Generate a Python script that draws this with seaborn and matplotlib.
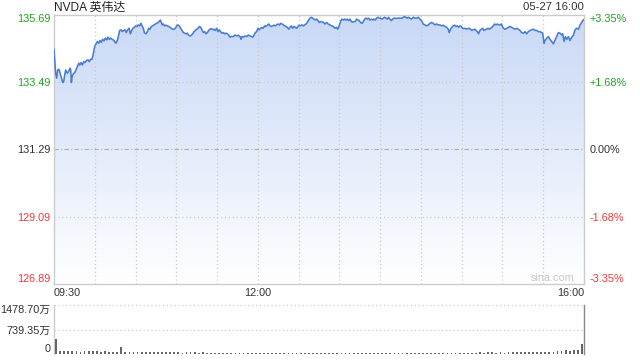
import numpy as np
import pandas as pd
import matplotlib
matplotlib.use("Agg")
import matplotlib.pyplot as plt
import seaborn as sns
from matplotlib.colors import LinearSegmentedColormap

# ---------------- data ----------------
minutes_a = [0, 1.2, 2.0, 2.7, 3.7, 4.4, 5.6, 6.4, 7.1, 7.9, 8.6, 9.8, 10.8, 11.8, 12.3, 12.8, 13.3, 14.2, 15.2, 16.2,
             17.2, 18.2, 18.9, 19.9, 20.9, 21.8, 22.8, 24.0, 25.0, 26.0, 27.0, 28.0, 29.0, 29.9, 30.9, 31.9, 32.9, 33.9, 34.8, 35.8,
             36.8, 37.8, 38.8, 39.7, 40.7, 41.7, 42.7, 43.7, 44.6, 45.6, 46.6, 47.6, 48.3, 49.3, 50.3, 51.3, 52.3, 53.2, 54.2, 55.2,
             56.2, 57.2, 58.1, 59.1, 60.1, 61.1, 62.1, 63.0, 64.0]
prices_a = [134.56, 133.77, 133.61, 133.88, 133.90, 133.79, 133.61, 133.47, 133.50, 133.72, 133.88, 133.77, 133.83, 133.94, 133.88, 133.47, 133.66, 133.75, 133.79, 133.88,
            133.99, 134.10, 134.04, 134.12, 134.04, 134.15, 134.12, 134.19, 134.21, 134.15, 134.23, 134.23, 134.43, 134.64, 134.73, 134.81, 134.75, 134.84, 134.78, 134.88,
            134.83, 134.92, 134.86, 134.95, 134.88, 134.92, 134.88, 134.86, 134.81, 134.75, 134.84, 135.02, 135.17, 135.19, 135.13, 135.17, 135.19, 135.10, 135.19, 135.24,
            135.06, 135.17, 135.24, 135.27, 135.32, 135.30, 135.35, 135.32, 135.40]

minutes_b = [64.5, 65.7, 66.5, 67.7, 68.7, 69.7, 70.6, 71.6, 72.6, 73.6, 74.6, 75.5, 76.5, 77.5, 78.2, 79.0, 79.7, 80.5, 81.4, 82.4,
             83.4, 84.4, 85.4, 86.3, 87.3, 88.3, 89.3, 90.3, 91.2, 92.2, 93.2, 94.2, 95.2, 96.2, 97.1, 98.1, 99.1, 100.1, 101.1, 102.0,
             103.0, 104.0, 105.0, 106.0, 107.0, 107.9, 108.9, 109.9, 110.9, 111.9, 112.8, 113.8, 114.8, 115.8, 116.8, 117.7, 118.7, 119.7, 120.7, 121.7,
             122.6, 123.6, 124.6, 125.6, 126.6, 127.5, 128.5, 129.5, 130.5]
prices_b = [135.35, 135.24, 135.10, 135.06, 135.13, 135.24, 135.21, 135.30, 135.32, 135.35, 135.38, 135.40, 135.43, 135.46, 135.51, 135.43, 135.35, 135.38, 135.32, 135.34,
            135.32, 135.30, 135.27, 135.24, 135.21, 135.21, 135.24, 135.32, 135.35, 135.32, 135.24, 135.17, 135.10, 135.08, 135.06, 135.08, 135.01, 134.99, 135.01, 135.06,
            135.13, 135.17, 135.21, 135.24, 135.30, 135.27, 135.19, 135.10, 135.13, 135.06, 135.10, 135.17, 135.21, 135.23, 135.19, 135.21, 135.17, 135.24, 135.13, 135.19,
            135.13, 135.08, 135.10, 135.06, 135.08, 135.06, 135.02, 134.95, 134.97]

minutes_c = [132.0, 133.2, 134.4, 135.6, 136.9, 137.6, 138.3, 139.3, 140.5, 141.8, 143.0, 144.2, 145.4, 146.2, 147.2, 148.1, 149.1, 150.1, 151.1, 152.1,
             153.0, 154.0, 155.0, 156.0, 157.0, 158.0, 158.9, 159.9, 160.9, 161.9, 162.9, 163.8, 164.8, 165.8, 166.8, 167.8, 168.7, 169.7, 170.7, 171.7,
             172.7, 173.7, 174.6, 175.6, 176.6, 177.6, 178.6, 179.5, 180.5, 181.5, 182.5, 183.5, 184.4, 185.4, 186.4, 187.4, 188.4, 189.4, 190.3, 191.3,
             192.3, 193.3, 194.3, 195.2, 196.2]
prices_c = [134.97, 135.02, 134.99, 135.01, 134.97, 134.88, 134.97, 134.95, 134.99, 134.97, 135.02, 134.99, 134.97, 134.95, 135.02, 135.10, 135.13, 135.24, 135.19, 135.24,
            135.27, 135.24, 135.32, 135.30, 135.34, 135.38, 135.32, 135.30, 135.32, 135.34, 135.32, 135.35, 135.38, 135.35, 135.40, 135.38, 135.35, 135.32, 135.30, 135.27,
            135.21, 135.27, 135.32, 135.24, 135.30, 135.27, 135.24, 135.30, 135.34, 135.32, 135.35, 135.32, 135.35, 135.38, 135.43, 135.51, 135.57, 135.60, 135.57, 135.54,
            135.51, 135.54, 135.49, 135.43, 135.46]

minutes_d = [198.2, 199.4, 200.6, 201.8, 203.1, 204.3, 205.5, 206.7, 208.0, 208.7, 209.4, 210.4, 211.2, 211.9, 212.9, 213.9, 214.8, 215.8, 216.8, 217.8,
             218.8, 219.7, 220.7, 221.7, 222.7, 223.7, 224.6, 225.6, 226.6, 227.6, 228.6, 229.6, 230.5, 231.5, 232.5, 233.5, 234.5, 235.4, 236.4, 237.4,
             238.4, 239.4, 240.3, 241.3, 242.3, 243.3, 244.3, 245.3, 246.2, 247.2, 248.2, 249.2, 250.2, 251.1, 252.1, 253.1, 254.1, 255.1, 256.0, 257.0,
             258.0, 259.0, 260.0, 260.9, 261.9, 262.9]
prices_d = [135.43, 135.38, 135.43, 135.38, 135.35, 135.32, 135.30, 135.24, 135.27, 135.21, 135.27, 135.40, 135.49, 135.54, 135.51, 135.54, 135.51, 135.54, 135.49, 135.54,
            135.46, 135.44, 135.46, 135.46, 135.54, 135.51, 135.49, 135.43, 135.40, 135.46, 135.54, 135.57, 135.54, 135.57, 135.51, 135.54, 135.51, 135.54, 135.51, 135.57,
            135.60, 135.57, 135.57, 135.54, 135.57, 135.60, 135.57, 135.54, 135.60, 135.54, 135.49, 135.54, 135.57, 135.57, 135.56, 135.57, 135.57, 135.57, 135.57, 135.60,
            135.62, 135.60, 135.57, 135.60, 135.57, 135.54]

minutes_e = [264.4, 265.6, 266.8, 268.0, 269.3, 270.5, 271.7, 272.9, 274.2, 275.4, 276.6, 277.8, 279.1, 280.3, 281.5, 282.8, 284.0, 285.2, 286.4, 287.7,
             288.9, 290.1, 290.8, 291.8, 292.8, 293.8, 294.8, 295.8, 296.7, 297.7, 298.7, 299.7, 300.7, 301.6, 302.6, 303.6, 304.6, 305.6, 306.5, 307.5,
             308.5, 309.5, 310.5, 311.5, 312.4, 313.4, 314.4, 315.4, 316.4, 317.3, 318.3, 319.3, 320.3, 321.3, 322.2, 323.2, 324.2, 325.2, 326.2, 327.2,
             328.1, 329.1]
prices_e = [135.60, 135.57, 135.57, 135.60, 135.54, 135.49, 135.38, 135.35, 135.32, 135.35, 135.40, 135.43, 135.40, 135.35, 135.38, 135.35, 135.35, 135.32, 135.34, 135.30,
            135.27, 135.21, 135.10, 135.21, 135.27, 135.32, 135.34, 135.30, 135.32, 135.27, 135.32, 135.30, 135.24, 135.23, 135.24, 135.21, 135.23, 135.24, 135.21, 135.17,
            135.19, 135.21, 135.17, 135.13, 135.06, 135.17, 135.21, 135.24, 135.17, 135.19, 135.21, 135.24, 135.21, 135.24, 135.27, 135.32, 135.38, 135.35, 135.38, 135.35,
            135.35, 135.38]

minutes_f = [330.7, 331.9, 333.1, 334.3, 335.6, 336.8, 338.0, 339.2, 340.5, 341.7, 342.9, 344.1, 345.4, 346.6, 347.8, 349.0, 350.3, 351.5, 352.7, 353.9,
             355.2, 356.4, 357.6, 358.9, 359.6, 360.1, 360.6, 361.3, 362.5, 363.8, 365.0, 366.2, 367.4, 368.7, 369.9, 371.1, 372.4, 373.6, 374.3, 375.3,
             376.3, 377.3, 378.5, 379.7, 381.0, 382.2, 383.4, 384.6, 385.9, 387.1, 388.3, 389.0, 390.0]
prices_f = [135.24, 135.21, 135.24, 135.27, 135.30, 135.27, 135.24, 135.21, 135.24, 135.21, 135.17, 135.10, 135.08, 135.13, 135.06, 135.13, 135.17, 135.19, 135.21, 135.17,
            135.17, 135.13, 135.13, 135.10, 135.08, 134.91, 134.75, 134.84, 134.91, 134.97, 134.88, 134.81, 134.73, 134.86, 134.97, 135.10, 135.08, 135.02, 135.06, 134.81,
            134.97, 134.88, 134.97, 134.84, 134.95, 135.02, 135.19, 135.24, 135.21, 135.35, 135.43, 135.49, 135.53]

# volume in 万 shares, 3-minute bins
volume_wan = [450,
              95, 85, 90, 80, 88, 75, 82, 78, 85, 80, 72, 78, 70, 75, 68,
              215,
              65, 60, 62, 58, 55, 60, 52, 55, 50, 52, 48, 50, 55, 48, 45, 50, 46, 48, 44, 46, 42, 45, 44, 42,
              40, 38, 42, 36, 40, 38, 35, 42, 38, 40, 36, 38, 35, 40, 37, 36, 42, 38, 35, 39,
              37, 40, 36, 38, 41, 35, 38, 36, 40, 37, 39, 35, 38, 42, 36, 40, 38, 35, 37, 41,
              38, 36, 40, 35, 39, 37, 42, 38, 36, 40, 35, 38, 41, 37, 36, 40, 38, 42, 39, 37,
              42, 45, 40, 48, 44, 46, 50, 42, 47, 45, 52, 48, 50, 55, 46, 52, 58, 50, 62, 55,
              70, 60, 85, 95, 110, 90, 120, 135,
              310]

prev_close = 131.29
price_ticks = [135.69, 133.49, 131.29, 129.09, 126.89]
pct_labels = ["+3.35%", "+1.68%", "0.00%", "-1.68%", "-3.35%"]
time_ticks = [0, 150, 390]
time_labels = ["09:30", "12:00", "16:00"]
vol_ticks = [1478.70, 739.35, 0]
vol_labels = ["1478.70万", "739.35万", "0"]
title = "NVDA 英伟达"
stamp = "05-27 16:00"

# ---------------- styling ----------------
sns.set_style("white")
plt.rcParams['font.family'] = ['Liberation Sans', 'Noto Sans CJK SC', 'DejaVu Sans']

GREEN = "#1fa51f"
RED = "#f03a3a"
DARK = "#333333"
GRID = "#c8c8c8"
LINE = "#4a7dd2"
DOTS = (0, (0.9, 2.2))

def tick_color(v):
    if v > prev_close + 1e-6:
        return GREEN
    if v < prev_close - 1e-6:
        return RED
    return DARK

minutes = minutes_a + minutes_b + minutes_c + minutes_d + minutes_e + minutes_f
prices = prices_a + prices_b + prices_c + prices_d + prices_e + prices_f
n = min(len(minutes), len(prices))
df = pd.DataFrame({"minute": minutes[:n], "price": prices[:n]})

W, H = 640, 360
fig = plt.figure(figsize=(6.4, 3.6), dpi=100)
ax = fig.add_axes([54 / W, 1 - 284 / H, 530 / W, 269.5 / H])
axv = fig.add_axes([54 / W, 1 - 354 / H, 530 / W, 49 / H])

ymin, ymax = price_ticks[-1], price_ticks[0]
ax.set_xlim(0, 390)
ax.set_ylim(ymin, ymax)

# gradient area fill
poly = ax.fill_between(df["minute"], df["price"], ymin, color="none", lw=0)
cmap = LinearSegmentedColormap.from_list("fillgrad", ["#ffffff", "#c8d8f6"])
grad = np.linspace(1, 0, 256).reshape(-1, 1)
im = ax.imshow(grad, extent=[0, 390, ymin, ymax], aspect="auto", cmap=cmap,
               vmin=0, vmax=1, origin="upper", zorder=1, interpolation="bilinear")
im.set_clip_path(poly.get_paths()[0], transform=ax.transData)

# grid
for m in range(30, 390, 30):
    ax.axvline(m, color=GRID, lw=0.9, ls=DOTS, zorder=2)
for v in price_ticks[1:-1]:
    if abs(v - prev_close) < 1e-6:
        ax.axhline(v, color="#b0b0b0", lw=0.8, ls=(0, (4, 2, 1, 2)), zorder=2)
    else:
        ax.axhline(v, color=GRID, lw=0.9, ls=DOTS, zorder=2)

sns.lineplot(data=df, x="minute", y="price", ax=ax, color=LINE, lw=1.15, zorder=3, sort=False)
ax.set_xlabel("")
ax.set_ylabel("")

for s in ax.spines.values():
    s.set_color("#cccccc")
    s.set_linewidth(1.0)

ax.set_xticks(time_ticks)
ax.set_xticklabels(time_labels)
ax.set_yticks(price_ticks)
ax.set_yticklabels([f"{v:.2f}" for v in price_ticks])
ax.tick_params(axis="both", length=0, labelsize=7.8)
ax.tick_params(axis="y", pad=2.4)
ax.tick_params(axis="x", pad=3.0, colors=DARK)
xl = ax.get_xticklabels()
xl[0].set_ha("left")
xl[-1].set_ha("right")
yl = ax.get_yticklabels()
for lab, v in zip(yl, price_ticks):
    lab.set_color(tick_color(v))
yl[0].set_va("top")
yl[-1].set_va("bottom")

ax2 = ax.twinx()
ax2.set_ylim(ymin, ymax)
ax2.set_yticks(price_ticks)
ax2.set_yticklabels(pct_labels)
ax2.tick_params(axis="y", length=0, labelsize=7.8, pad=4.3)
for s in ax2.spines.values():
    s.set_visible(False)
rl = ax2.get_yticklabels()
for lab, v in zip(rl, price_ticks):
    lab.set_color(tick_color(v))
rl[0].set_va("top")
rl[-1].set_va("bottom")

ax.text(0.94, 0.005, "sina.com", transform=ax.transAxes, ha="center", va="bottom",
        color="#c8c8c8", fontsize=7.8, zorder=4)

fig.text(54 / W, 1 - 7.5 / H, title, ha="left", va="center", fontsize=8.6, color="#222222")
fig.text(584 / W, 1 - 7.5 / H, stamp, ha="right", va="center", fontsize=8.2, color=DARK)

# ---------------- volume ----------------
vol_minutes = np.arange(len(volume_wan)) * 3 + 1.5
axv.set_xlim(0, 390)
axv.set_ylim(0, vol_ticks[0])
axv.bar(vol_minutes, volume_wan, width=1.3, color="#666666", lw=0, zorder=3)
for v in vol_ticks[:2]:
    axv.axhline(v, color=GRID, lw=0.9, ls=DOTS, zorder=2, clip_on=False)
axv.set_xticks([])
axv.set_yticks(vol_ticks)
axv.set_yticklabels(vol_labels)
axv.tick_params(axis="y", length=0, labelsize=7.8, pad=2.4, colors=DARK)
vl = axv.get_yticklabels()
vl[0].set_va("top")
vl[-1].set_va("bottom")
axv.spines["top"].set_visible(False)
axv.spines["bottom"].set_visible(False)
axv.spines["left"].set_color("#cccccc")
axv.spines["right"].set_color("#888888")
axv.spines["left"].set_linewidth(1.0)
axv.spines["right"].set_linewidth(1.0)

fig.savefig("out.png", dpi=100)
